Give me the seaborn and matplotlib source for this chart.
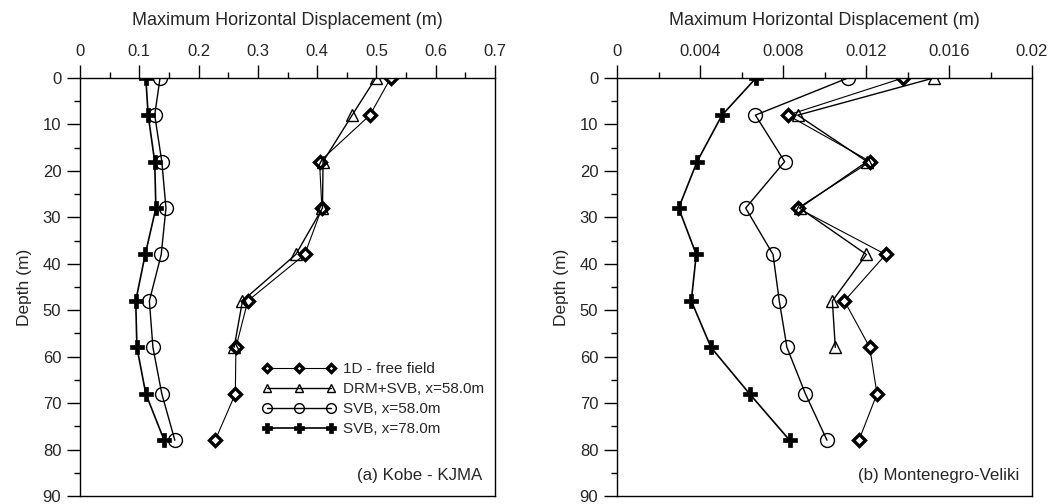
import numpy as np
import pandas as pd
import matplotlib
matplotlib.use("Agg")
import matplotlib.pyplot as plt
from matplotlib.ticker import MultipleLocator
import seaborn as sns

sns.set_theme(style="white")
plt.rcParams['font.family'] = ['Liberation Sans', 'DejaVu Sans']

depth = [0, 8, 18, 28, 38, 48, 58, 68, 78]
depth_drm = [0, 8, 18, 28, 38, 48, 58]

# (a) Kobe - KJMA
kobe_1d = [0.524, 0.489, 0.404, 0.408, 0.379, 0.283, 0.263, 0.262, 0.228]
kobe_drm = [0.499, 0.459, 0.410, 0.409, 0.364, 0.274, 0.260]
kobe_svb58 = [0.135, 0.126, 0.138, 0.145, 0.137, 0.117, 0.123, 0.138, 0.160]
kobe_svb78 = [0.111, 0.115, 0.126, 0.128, 0.110, 0.094, 0.096, 0.111, 0.142]

# (b) Montenegro-Veliki
mont_1d = [0.01378, 0.00823, 0.01221, 0.00871, 0.01295, 0.01096, 0.01218, 0.01253, 0.01166]
mont_drm = [0.01526, 0.00871, 0.01205, 0.00880, 0.01202, 0.01038, 0.01052]
mont_svb58 = [0.01113, 0.00667, 0.00808, 0.00620, 0.00752, 0.00782, 0.00819, 0.00908, 0.01012]
mont_svb78 = [0.00670, 0.00506, 0.00386, 0.00297, 0.00382, 0.00358, 0.00453, 0.00639, 0.00832]

labels = ["1D - free field", "DRM+SVB, x=58.0m", "SVB, x=58.0m", "SVB, x=78.0m"]
panel_titles = ["(a) Kobe - KJMA", "(b) Montenegro-Veliki"]
xlim = [(0, 0.7), (0, 0.02)]
xmajor = [0.1, 0.004]
xminor = [0.05, 0.002]

styles = {
    labels[0]: dict(marker="D", markersize=6, mfc="white", mec="black", mew=2.4, lw=0.8),
    labels[1]: dict(marker="^", markersize=8, mfc="none", mec="black", mew=1.0, lw=1.0),
    labels[2]: dict(marker="o", markersize=10, mfc="none", mec="black", mew=1.0, lw=1.0),
    labels[3]: dict(marker="P", markersize=10, mfc="black", mec="black", mew=0.5, lw=1.2),
}

fig = plt.figure(figsize=(10.54, 5.04), dpi=100)
W, H = 1054, 504
axes = [fig.add_axes([80 / W, 8 / H, 415 / W, 418 / H]),
        fig.add_axes([617 / W, 8 / H, 415 / W, 418 / H])]

datasets = [
    [(kobe_1d, depth), (kobe_drm, depth_drm), (kobe_svb58, depth), (kobe_svb78, depth)],
    [(mont_1d, depth), (mont_drm, depth_drm), (mont_svb58, depth), (mont_svb78, depth)],
]

for i, ax in enumerate(axes):
    for lab, (xs, ys) in zip(labels, datasets[i]):
        df = pd.DataFrame({"disp": xs, "depth": ys})
        st = styles[lab]
        sns.lineplot(data=df, x="disp", y="depth", sort=False, estimator=None,
                     color="black", ax=ax, label=lab if i == 0 else None,
                     marker=st["marker"], markersize=st["markersize"],
                     markerfacecolor=st["mfc"], markeredgecolor=st["mec"],
                     markeredgewidth=st["mew"], linewidth=st["lw"])
    ax.set_xlim(*xlim[i])
    ax.set_ylim(90, 0)
    ax.xaxis.set_label_position("top")
    ax.xaxis.tick_top()
    ax.xaxis.set_major_locator(MultipleLocator(xmajor[i]))
    ax.xaxis.set_minor_locator(MultipleLocator(xminor[i]))
    ax.yaxis.set_major_locator(MultipleLocator(10))
    ax.yaxis.set_minor_locator(MultipleLocator(5))
    ax.tick_params(axis="both", which="major", direction="out", length=9.5, width=1,
                   labelsize=12, color="black", pad=4)
    ax.tick_params(axis="both", which="minor", direction="out", length=4.5, width=1,
                   color="black")
    ax.tick_params(axis="x", which="both", top=True, bottom=False)
    ax.tick_params(axis="y", which="both", left=True, right=False)
    ax.set_xlabel("Maximum Horizontal Displacement (m)", fontsize=13, labelpad=14)
    ax.set_ylabel("Depth (m)", fontsize=12.5, labelpad=8)
    for s in ax.spines.values():
        s.set_color("black")
        s.set_linewidth(1)
    if i == 0:
        ax.xaxis.set_major_formatter(plt.FuncFormatter(lambda v, p: "0" if v == 0 else f"{v:.1f}"))
    else:
        ax.xaxis.set_major_formatter(plt.FuncFormatter(lambda v, p: "0" if v == 0 else (f"{v:.3f}" if round(v * 1000) % 10 else f"{v:.2f}")))
    ax.text(0.97, 0.05, panel_titles[i], transform=ax.transAxes, ha="right", va="center",
            fontsize=12.2)

leg = axes[0].legend(loc="upper left", bbox_to_anchor=(0.425, 0.335), frameon=False,
                     numpoints=3, handlelength=4.8, handletextpad=0.45, labelspacing=0.4,
                     markerscale=0.7, fontsize=11, borderaxespad=0)

fig.savefig("out.png", dpi=100)
